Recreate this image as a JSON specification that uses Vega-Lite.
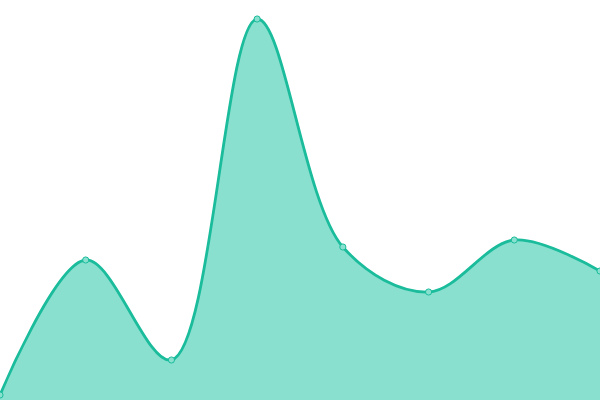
{
  "$schema": "https://vega.github.io/schema/vega-lite/v6.json",
  "width": 600,
  "height": 400,
  "padding": 0,
  "autosize": {"type": "none"},
  "config": {"view": {"stroke": null}},
  "data": {"values": [
    {"i": 0, "v": 5},
    {"i": 1, "v": 140},
    {"i": 2, "v": 40},
    {"i": 3, "v": 381},
    {"i": 4, "v": 153},
    {"i": 5, "v": 108},
    {"i": 6, "v": 160},
    {"i": 7, "v": 129}
  ]},
  "encoding": {
    "x": {"field": "i", "type": "quantitative", "scale": {"domain": [0, 7], "nice": false, "zero": false}, "axis": null},
    "y": {"field": "v", "type": "quantitative", "scale": {"domain": [0, 400], "nice": false}, "axis": null}
  },
  "layer": [
    {"mark": {"type": "area", "interpolate": "catmull-rom", "color": "#89e0cf", "opacity": 1}},
    {"mark": {"type": "line", "interpolate": "catmull-rom", "color": "#1abc9c", "strokeWidth": 2.8}},
    {"mark": {"type": "point", "filled": true, "fill": "#8ae0cf", "stroke": "#1abc9c", "strokeWidth": 1, "size": 38, "opacity": 1}}
  ]
}
